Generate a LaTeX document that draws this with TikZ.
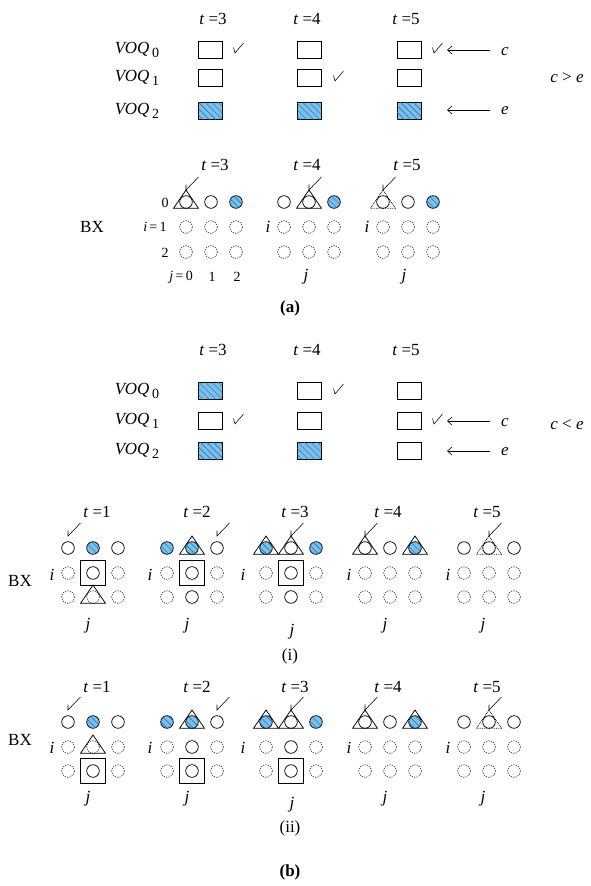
\documentclass[tikz,border=0pt]{standalone}
\usepackage{fontspec}
\setmainfont{Liberation Serif}
\usetikzlibrary{patterns.meta,arrows.meta}
\definecolor{voqblue}{RGB}{120,192,238}
\definecolor{hatchc}{RGB}{45,100,150}
\tikzset{
  shp/.style={line width=0.75pt},
  cir/.style={line width=0.75pt},
  cird/.style={line width=0.5pt,dash pattern=on 1.3pt off 1.1pt},
  blueobj/.style={fill=voqblue,postaction={pattern={Lines[angle=-45,distance=4.6pt,line width=0.45pt]},pattern color=hatchc}},
  lab/.style={font=\fontsize{17}{20}\selectfont,inner sep=0pt},
  slab/.style={font=\fontsize{14}{16}\selectfont,inner sep=0pt},
  tk/.style={line width=0.55pt},
  longarr/.style={line width=0.6pt,{Straight Barb[length=4.5pt,width=8pt]}-}
}
\newcommand\Csol[2]{\draw[cir] (#1,#2) circle[radius=6.3];}
\newcommand\Cdsh[2]{\draw[cird] (#1,#2) circle[radius=6.3];}
\newcommand\Cblu[2]{\draw[cir,blueobj] (#1,#2) circle[radius=6.3];}
\newcommand\Tri[2]{\draw[shp] ({#1-12.5},{#2+6.3}) -- (#1,{#2-12}) -- ({#1+12.5},{#2+6.3}) -- cycle;}
\newcommand\TriD[2]{\draw[shp,densely dotted] ({#1-12.5},{#2+6.3}) -- (#1,{#2-12}) -- ({#1+12.5},{#2+6.3}) -- cycle;}
\newcommand\Sq[2]{\draw[shp] ({#1-12.5},{#2-12.5}) rectangle ({#1+12.5},{#2+12.5});}
\newcommand\Arw[2]{\draw[tk] ({#1+12.5},{#2-13}) -- (#1,#2) -- (#1,{#2-5.5});}
\newcommand\Chk[2]{\draw[tk] ({#1-1.5},{#2-5.5}) -- (#1,#2) -- ({#1+8.5},{#2-10});}
\newcommand\Qbox[2]{\draw[shp] ({#1-12},{#2-8.5}) rectangle ({#1+12},{#2+8.5});}
\newcommand\QboxB[2]{\draw[shp,blueobj] ({#1-12},{#2-8.5}) rectangle ({#1+12},{#2+8.5});}
\newcommand\VOQ[1]{\textit{VOQ}\,\raisebox{-0.45ex}{\fontsize{14}{15}\selectfont #1}}
\newcommand\Tl[1]{\textit{t} =#1}
\begin{document}
\begin{tikzpicture}[x=1pt,y=-1pt]
\useasboundingbox (0,0) rectangle (590,886);

% ================= (a) VOQ =================
\node[lab] (at3) at (213,19) {\Tl{3}};
\node[lab] (at4) at (307,19) {\Tl{4}};
\node[lab] (at5) at (406,19) {\Tl{5}};
\node[lab] (av0) at (137,50) {\VOQ{0}};
\node[lab] (av1) at (137,78) {\VOQ{1}};
\node[lab] (av2) at (137,111) {\VOQ{2}};
\Qbox{210}{50}\Qbox{309}{50}\Qbox{409}{50}
\Qbox{210}{78}\Qbox{309}{78}\Qbox{409}{78}
\QboxB{210}{111}\QboxB{309}{111}\QboxB{409}{111}
\Chk{235}{53}\Chk{335}{81}\Chk{434}{53}
\node[lab] (ac) at (505,52) {\textit{c}};
\node[lab] (ae) at (505,111) {\textit{e}};
\coordinate (aca) at (447,50);
\coordinate (acb) at (490,50);
\coordinate (aea) at (447,110);
\coordinate (aeb) at (490,110);
\draw[longarr] (aca) -- (acb);
\draw[longarr] (aea) -- (aeb);
\node[lab] (ace) at (567,78) {\textit{c} \textgreater{} \textit{e}};

% ================= (a) BX =================
\node[lab] (abt3) at (215,165) {\Tl{3}};
\node[lab] (abt4) at (307,165) {\Tl{4}};
\node[lab] (abt5) at (407,165) {\Tl{5}};
\node[lab] (abx) at (92,227) {BX};
\node[slab] (ar0) at (165,203) {0};
\node[slab] (ar1) at (155,227) {\textit{i}\,=\,1};
\node[slab] (ar2) at (165,253) {2};
\node[slab,anchor=east] (aj0) at (193,277) {\textit{j}\,=\,0};
\node[slab] (aj1) at (212,277) {1};
\node[slab] (aj2) at (237,277) {2};
\node[lab] (ai4) at (268,227) {\textit{i}};
\node[lab] (ai5) at (367,227) {\textit{i}};
\node[lab] (ajj4) at (306,277) {\textit{j}};
\node[lab] (ajj5) at (404,277) {\textit{j}};
% t=3
\Tri{186}{202}\Csol{186}{202}\Csol{211}{202}\Cblu{236}{202}
\Cdsh{186}{227}\Cdsh{211}{227}\Cdsh{236}{227}
\Cdsh{186}{252}\Cdsh{211}{252}\Cdsh{236}{252}
\Arw{186}{190}
% t=4
\Csol{284}{202}\Tri{309}{202}\Csol{309}{202}\Cblu{334}{202}
\Cdsh{284}{227}\Cdsh{309}{227}\Cdsh{334}{227}
\Cdsh{284}{252}\Cdsh{309}{252}\Cdsh{334}{252}
\Arw{309}{190}
% t=5
\TriD{383}{202}\Csol{383}{202}\Csol{408}{202}\Cblu{433}{202}
\Cdsh{383}{227}\Cdsh{408}{227}\Cdsh{433}{227}
\Cdsh{383}{252}\Cdsh{408}{252}\Cdsh{433}{252}
\Arw{383}{190}
\node[lab,font=\fontsize{17}{20}\selectfont\bfseries] (acap) at (290,308) {(a)};

% ================= (b) VOQ =================
\node[lab] (bt3) at (213,350) {\Tl{3}};
\node[lab] (bt4) at (307,350) {\Tl{4}};
\node[lab] (bt5) at (406,350) {\Tl{5}};
\node[lab] (bv0) at (137,391) {\VOQ{0}};
\node[lab] (bv1) at (137,421) {\VOQ{1}};
\node[lab] (bv2) at (137,451) {\VOQ{2}};
\QboxB{210}{391}\Qbox{309}{391}\Qbox{409}{391}
\Qbox{210}{421}\Qbox{309}{421}\Qbox{409}{421}
\QboxB{210}{451}\QboxB{309}{451}\Qbox{409}{451}
\Chk{235}{424}\Chk{335}{394}\Chk{434}{424}
\node[lab] (bc) at (505,423) {\textit{c}};
\node[lab] (be) at (505,452) {\textit{e}};
\coordinate (bca) at (447,421);
\coordinate (bcb) at (490,421);
\coordinate (bea) at (447,451);
\coordinate (beb) at (490,451);
\draw[longarr] (bca) -- (bcb);
\draw[longarr] (bea) -- (beb);
\node[lab] (bce) at (567,425) {\textit{c} \textless{} \textit{e}};

% ================= (b)(i) =================
\node[lab] (it1) at (97,512) {\Tl{1}};
\node[lab] (it2) at (197,512) {\Tl{2}};
\node[lab] (it3) at (295,512) {\Tl{3}};
\node[lab] (it4) at (388,512) {\Tl{4}};
\node[lab] (it5) at (487,512) {\Tl{5}};
\node[lab] (ibx) at (20,581) {BX};
\node[lab] (ii1) at (52,575) {\textit{i}};
\node[lab] (ii2) at (150,575) {\textit{i}};
\node[lab] (ii3) at (243,575) {\textit{i}};
\node[lab] (ii4) at (349,575) {\textit{i}};
\node[lab] (ii5) at (448,575) {\textit{i}};
\node[lab] (ij1) at (88,626) {\textit{j}};
\node[lab] (ij2) at (187,626) {\textit{j}};
\node[lab] (ij3) at (292,632) {\textit{j}};
\node[lab] (ij4) at (385,626) {\textit{j}};
\node[lab] (ij5) at (483,626) {\textit{j}};
% t=1
\Csol{68}{548}\Cblu{93}{548}\Csol{118}{548}
\Cdsh{68}{573}\Sq{93}{573}\Csol{93}{573}\Cdsh{118}{573}
\Cdsh{68}{597}\Tri{93}{597}\Cdsh{93}{597}\Cdsh{118}{597}
\Arw{68}{536}
% t=2
\Cblu{167}{548}\Tri{192}{548}\Cblu{192}{548}\Csol{217}{548}
\Cdsh{167}{573}\Sq{192}{573}\Csol{192}{573}\Cdsh{217}{573}
\Cdsh{167}{597}\Csol{192}{597}\Cdsh{217}{597}
\Arw{217}{536}
% t=3
\Tri{266}{548}\Cblu{266}{548}\Tri{291}{548}\Csol{291}{548}\Cblu{316}{548}
\Cdsh{266}{573}\Sq{291}{573}\Csol{291}{573}\Cdsh{316}{573}
\Cdsh{266}{597}\Csol{291}{597}\Cdsh{316}{597}
\Arw{291}{536}
% t=4
\Tri{365}{548}\Csol{365}{548}\Csol{390}{548}\Tri{415}{548}\Cblu{415}{548}
\Cdsh{365}{573}\Cdsh{390}{573}\Cdsh{415}{573}
\Cdsh{365}{597}\Cdsh{390}{597}\Cdsh{415}{597}
\Arw{365}{536}
% t=5
\Csol{464}{548}\TriD{489}{548}\Csol{489}{548}\Csol{514}{548}
\Cdsh{464}{573}\Cdsh{489}{573}\Cdsh{514}{573}
\Cdsh{464}{597}\Cdsh{489}{597}\Cdsh{514}{597}
\Arw{489}{536}
\node[lab] (icap) at (290,656) {(i)};

% ================= (b)(ii) =================
\node[lab] (jt1) at (97,687) {\Tl{1}};
\node[lab] (jt2) at (197,687) {\Tl{2}};
\node[lab] (jt3) at (295,687) {\Tl{3}};
\node[lab] (jt4) at (388,687) {\Tl{4}};
\node[lab] (jt5) at (487,687) {\Tl{5}};
\node[lab] (jbx) at (20,740) {BX};
\node[lab] (ji1) at (52,748) {\textit{i}};
\node[lab] (ji2) at (150,748) {\textit{i}};
\node[lab] (ji3) at (243,748) {\textit{i}};
\node[lab] (ji4) at (349,748) {\textit{i}};
\node[lab] (ji5) at (448,748) {\textit{i}};
\node[lab] (jj1) at (88,799) {\textit{j}};
\node[lab] (jj2) at (187,799) {\textit{j}};
\node[lab] (jj3) at (292,805) {\textit{j}};
\node[lab] (jj4) at (385,799) {\textit{j}};
\node[lab] (jj5) at (483,799) {\textit{j}};
% t=1
\Csol{68}{722}\Cblu{93}{722}\Csol{118}{722}
\Cdsh{68}{747}\Tri{93}{747}\Cdsh{93}{747}\Cdsh{118}{747}
\Cdsh{68}{771}\Sq{93}{771}\Csol{93}{771}\Cdsh{118}{771}
\Arw{68}{710}
% t=2
\Cblu{167}{722}\Tri{192}{722}\Cblu{192}{722}\Csol{217}{722}
\Cdsh{167}{747}\Csol{192}{747}\Cdsh{217}{747}
\Cdsh{167}{771}\Sq{192}{771}\Csol{192}{771}\Cdsh{217}{771}
\Arw{217}{710}
% t=3
\Tri{266}{722}\Cblu{266}{722}\Tri{291}{722}\Csol{291}{722}\Cblu{316}{722}
\Cdsh{266}{747}\Csol{291}{747}\Cdsh{316}{747}
\Cdsh{266}{771}\Sq{291}{771}\Csol{291}{771}\Cdsh{316}{771}
\Arw{291}{710}
% t=4
\Tri{365}{722}\Csol{365}{722}\Csol{390}{722}\Tri{415}{722}\Cblu{415}{722}
\Cdsh{365}{747}\Cdsh{390}{747}\Cdsh{415}{747}
\Cdsh{365}{771}\Cdsh{390}{771}\Cdsh{415}{771}
\Arw{365}{710}
% t=5
\Csol{464}{722}\TriD{489}{722}\Csol{489}{722}\Csol{514}{722}
\Cdsh{464}{747}\Cdsh{489}{747}\Cdsh{514}{747}
\Cdsh{464}{771}\Cdsh{489}{771}\Cdsh{514}{771}
\Arw{489}{710}
\node[lab] (jcap) at (290,828) {(ii)};
\node[lab,font=\fontsize{17}{20}\selectfont\bfseries] (bcap) at (290,872) {(b)};
\end{tikzpicture}
\end{document}
